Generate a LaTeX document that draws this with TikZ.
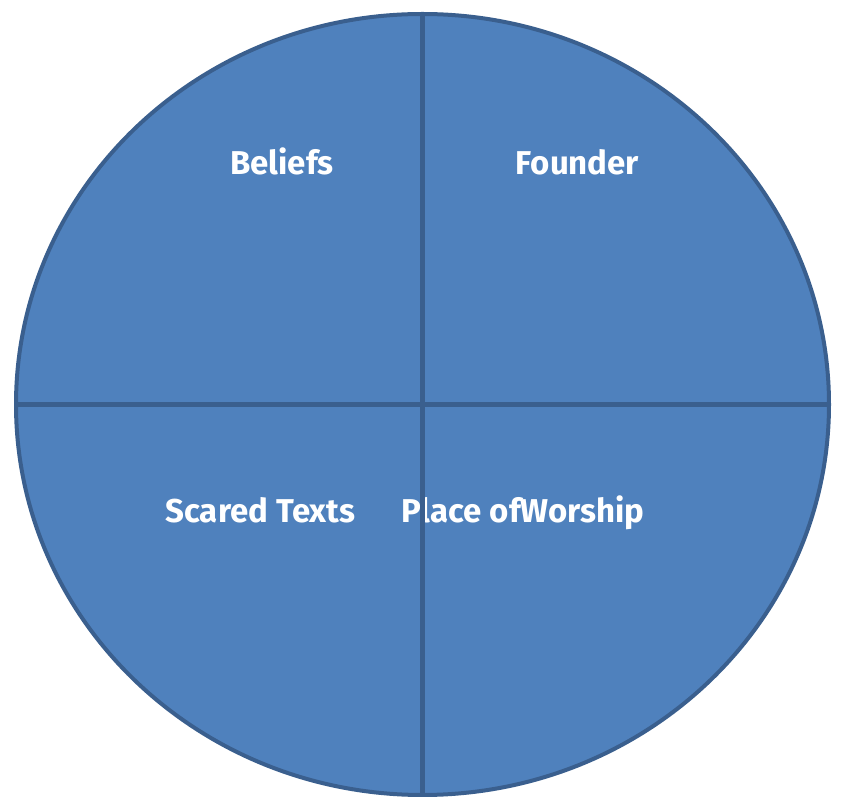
\documentclass[tikz,border=0pt]{standalone}
\usepackage{fontspec}
\setmainfont{Fira Sans}
\usetikzlibrary{shapes.geometric}
\definecolor{qfill}{HTML}{4F81BD}
\definecolor{qline}{HTML}{3A5F8E}
\tikzset{
  label text/.style={text=white, font=\fontsize{33}{37}\selectfont\bfseries, anchor=base, inner sep=0pt},
  divider/.style={draw=qline, line width=4.5pt}
}
\begin{document}
\begin{tikzpicture}[x=1pt,y=1pt]
\useasboundingbox (0,0) rectangle (841,798);
\node[ellipse, draw=qline, fill=qfill, line width=4pt, inner sep=0pt, outer sep=0pt,
      minimum width=813pt, minimum height=781pt] (c) at (422.5,393.5) {};
\node[label text] (beliefs) at (282,623) {Beliefs};
\node[label text] (founder) at (577.5,623) {Founder};
\node[label text] (texts) at (260.5,275) {Scared Texts};
\node[label text] (worship) at (523,275) {Place ofWorship};
\draw[divider] (c.north) -- (c.south);
\draw[divider] (c.west) -- (c.east);
\end{tikzpicture}
\end{document}
